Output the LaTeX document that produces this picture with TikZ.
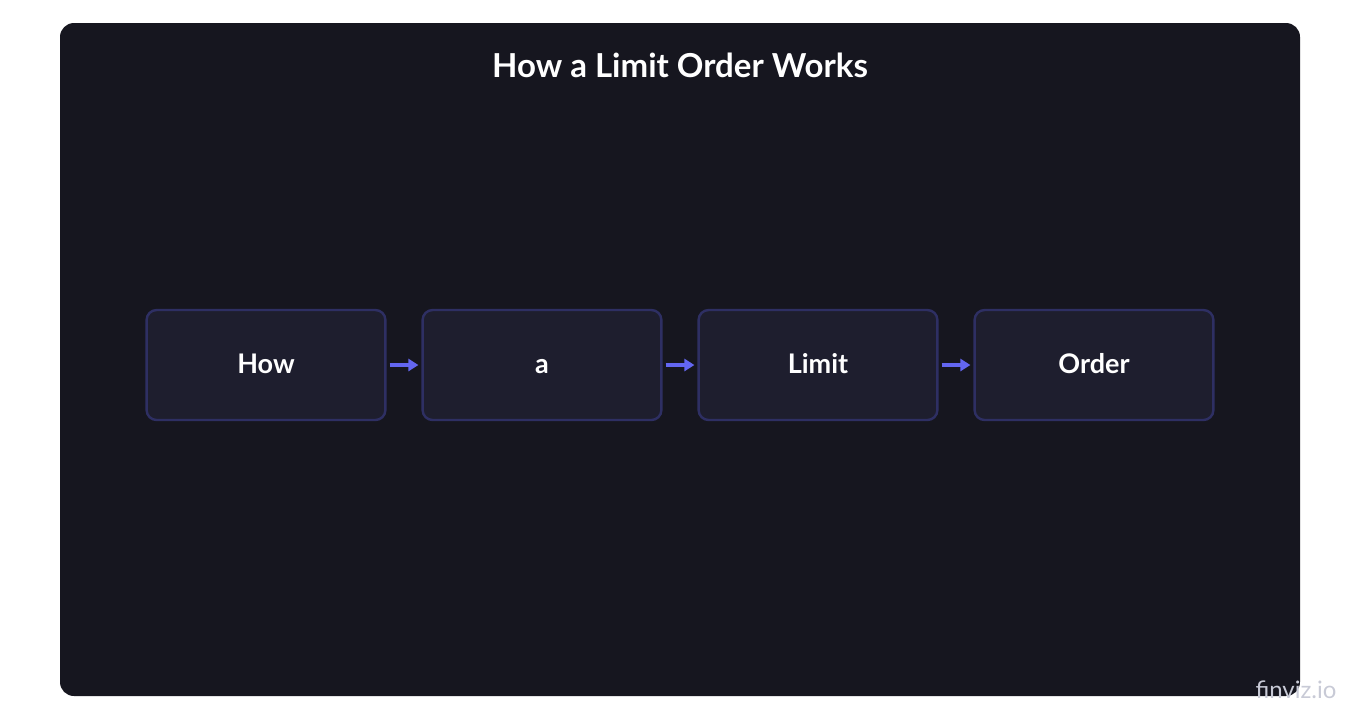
\documentclass[tikz,border=0pt]{standalone}
\usepackage{fontspec}
\setmainfont{Lato}
\usetikzlibrary{positioning, arrows.meta}
\definecolor{panelbg}{HTML}{16161F}
\definecolor{boxfill}{HTML}{1E1E2E}
\definecolor{boxline}{HTML}{2E2F63}
\definecolor{arrowblue}{HTML}{6366F1}
\definecolor{markgray}{HTML}{C8CAD6}
\begin{document}
\begin{tikzpicture}[x=0.5pt,y=-0.5pt,
    stage/.style={draw=boxline, line width=1.2pt, fill=boxfill, rounded corners=5pt,
      minimum width=119.4pt, minimum height=55pt, text height=1.95ex, text depth=.3ex,
      text=white, font=\fontsize{13.5}{15}\selectfont\bfseries},
    flow/.style={-{Triangle[length=5pt,width=6pt]}, arrowblue, line width=2pt, shorten <=1.5pt, shorten >=1.5pt}]
        \useasboundingbox (0,0) rectangle (1360,720);
        \fill[panelbg, rounded corners=7pt] (60,23) rectangle (1300,696);
        \node[text=white, font=\fontsize{16.5}{18}\selectfont\bfseries] (title) at (680,65) {How a Limit Order Works};

        \node[stage] (how) at (266,365) {How};
        \node[stage, right=17.4pt of how] (a) {a};
        \node[stage, right=17.4pt of a] (limit) {Limit};
        \node[stage, right=17.4pt of limit] (order) {Order};

        \draw[flow] (how) -- (a);
        \draw[flow] (a) -- (limit);
        \draw[flow] (limit) -- (order);

        \node[text=markgray, font=\fontsize{12}{14}\selectfont] (mark) at (1296,690) {finviz.io};
    \end{tikzpicture}
\end{document}
